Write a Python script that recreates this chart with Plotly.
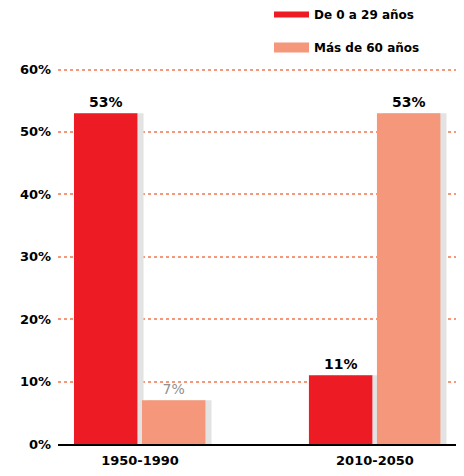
import plotly.graph_objects as go

categories = ["1950-1990", "2010-2050"]
series_names = ["De 0 a 29 años", "Más de 60 años"]
young = [0.53, 0.11]
old = [0.07, 0.53]
young_labels = ["53%", "11%"]
old_labels = ["7%", "53%"]
tick_vals = [0, 0.1, 0.2, 0.3, 0.4, 0.5, 0.6]
tick_text = ["0%", "10%", "20%", "30%", "40%", "50%", "60%"]

RED = "#ED1C24"
SALMON = "#F4977A"
SHADOW = "#E3E3E3"
FONT = "DejaVu Sans, Arial, sans-serif"

BW = 0.270
OFF_Y = -0.281
OFF_O = 0.0085
SH = 0.026

fig = go.Figure()
# shadows
for vals, off in [(young, OFF_Y), (old, OFF_O)]:
    fig.add_trace(go.Bar(x=categories, y=vals, width=BW, offset=off + SH,
                         marker=dict(color=SHADOW, line=dict(width=0)),
                         showlegend=False, hoverinfo="skip"))
fig.add_trace(go.Bar(x=categories, y=young, width=BW, offset=OFF_Y, name=series_names[0],
                     marker=dict(color=RED, line=dict(width=0)),
                     text=young_labels, textposition="outside", cliponaxis=False,
                     textfont=dict(color="black", size=14, family=FONT, weight="bold"),
                     showlegend=False))
fig.add_trace(go.Bar(x=categories, y=old, width=BW, offset=OFF_O, name=series_names[1],
                     marker=dict(color=SALMON, line=dict(width=0)),
                     text=old_labels, textposition="outside", cliponaxis=False,
                     textfont=dict(color=["#8f8f8f", "black"], size=14, family=FONT,
                                   weight=["normal", "bold"]),
                     showlegend=False))

# legend drawn in paper coordinates (screen px -> paper)
PLOT_TOP = 8 + 58.5
PLOT_H = 377.5

def px_x(sx):
    return (sx - 58) / 402.0

def px_y(sy):
    return (PLOT_TOP + PLOT_H - sy) / PLOT_H

legend_items = [(series_names[0], RED, 11, 17, 14), (series_names[1], SALMON, 42, 52, 47)]
for name, col, y0, y1, yc in legend_items:
    fig.add_shape(type="rect", xref="paper", yref="paper",
                  x0=px_x(274), x1=px_x(309), y0=px_y(y1), y1=px_y(y0),
                  fillcolor=col, line=dict(width=0))
    fig.add_annotation(text=name, xref="paper", yref="paper", x=px_x(312), y=px_y(yc),
                       xanchor="left", yanchor="middle", showarrow=False,
                       font=dict(size=12, family=FONT, weight="bold", color="black"))

fig.update_layout(
    width=456, height=468,
    margin=dict(l=50, r=4, t=58.5, b=32),
    paper_bgcolor="white", plot_bgcolor="white",
    barmode="overlay",
    showlegend=False,
    font=dict(family=FONT, color="black", size=13),
    xaxis=dict(range=[-0.349, 1.362], showgrid=False, showline=True,
               linecolor="black", linewidth=1.5, ticks="", ticklabelstandoff=4,
               tickfont=dict(size=13, family=FONT, weight="bold"),
               fixedrange=True),
    yaxis=dict(range=[0, 0.604], tickvals=tick_vals, ticktext=tick_text,
               showgrid=True, gridcolor=SALMON, griddash="dot", gridwidth=1.5,
               zeroline=False, showline=False, ticks="", ticklabelstandoff=6,
               tickfont=dict(size=13, family=FONT, weight="bold")),
)

fig.write_html("out.html")
